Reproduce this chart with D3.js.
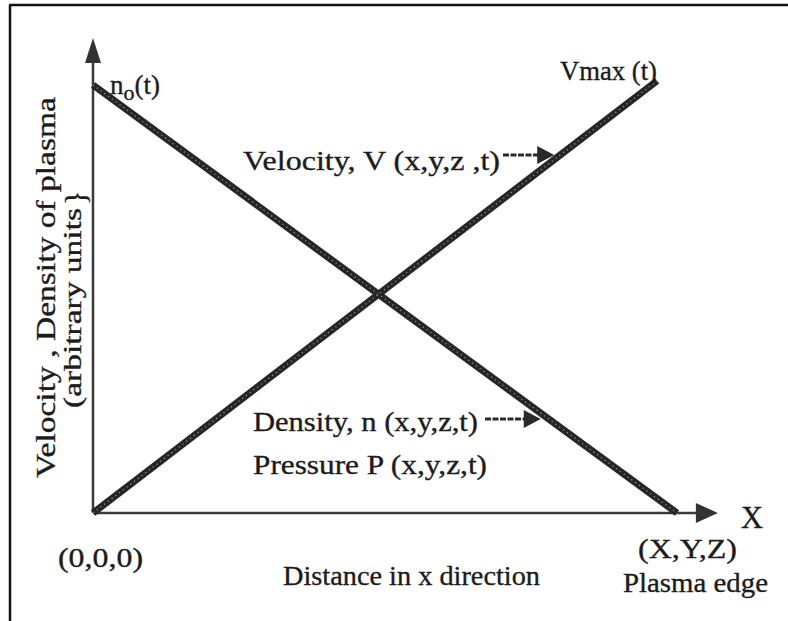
<!DOCTYPE html>
<html>
<head>
<meta charset="utf-8">
<script src="https://cdn.jsdelivr.net/npm/d3@7"></script>
<style>
    body { margin: 0; background: #fff; }
    svg { display: block; }
    text { font-family: "Liberation Serif", "Times New Roman", serif; fill: #1c1c1c; stroke: #1c1c1c; stroke-width: 0.35; }
</style>
</head>
<body>
<div id="chart"></div>
<script>
// normalised distance from centre (0) to plasma edge (1)
var velocityX = [0, 0.966];
var velocityY = [0, 1.01];
var densityX = [0, 1];
var densityY = [1, 0];
var axisEnd = { x: 1.07, y: 1.11 };

var width = 788;
var height = 621;

var xScale = d3.scaleLinear().domain([0, 1]).range([93, 677]);
var yScale = d3.scaleLinear().domain([0, 1]).range([513, 85]);

var svg = d3.select('#chart').append('svg')
    .attr('width', width)
    .attr('height', height);

svg.append('rect')
    .attr('width', width)
    .attr('height', height)
    .attr('fill', '#fff');

// frame: only top and left edges are visible
svg.append('path')
    .attr('d', 'M9,5H788M10,5V621')
    .attr('fill', 'none')
    .attr('stroke', '#111')
    .attr('stroke-width', 2.5);

// axes
var axisG = svg.append('g').attr('class', 'axes');
axisG.append('line')
    .attr('x1', xScale(0)).attr('y1', yScale(0))
    .attr('x2', xScale(0)).attr('y2', yScale(axisEnd.y) + 18)
    .attr('stroke', '#3a3a3a').attr('stroke-width', 2.5);
axisG.append('line')
    .attr('x1', xScale(0)).attr('y1', yScale(0))
    .attr('x2', xScale(axisEnd.x) - 16).attr('y2', yScale(0))
    .attr('stroke', '#3a3a3a').attr('stroke-width', 2.5);

function tri(tx, ty, dir, len, half) {
    // dir: 'up' or 'right'
    if (dir === 'up') {
        return 'M' + tx + ',' + ty + 'L' + (tx - half) + ',' + (ty + len) + 'L' + (tx + half) + ',' + (ty + len) + 'Z';
    }
    return 'M' + tx + ',' + ty + 'L' + (tx - len) + ',' + (ty - half) + 'L' + (tx - len) + ',' + (ty + half) + 'Z';
}

axisG.append('path')
    .attr('d', tri(xScale(0), yScale(axisEnd.y), 'up', 25, 8))
    .attr('fill', '#333');
axisG.append('path')
    .attr('d', tri(xScale(axisEnd.x), yScale(0), 'right', 22, 10))
    .attr('fill', '#333');

// profiles
var line = d3.line()
    .x(function (d) { return xScale(d[0]); })
    .y(function (d) { return yScale(d[1]); });

var series = [
    d3.zip(velocityX, velocityY),
    d3.zip(densityX, densityY)
];

var lineG = svg.append('g').attr('class', 'profiles');
lineG.selectAll('.thick')
    .data(series)
    .enter().append('path')
    .attr('class', 'thick')
    .attr('d', line)
    .attr('fill', 'none')
    .attr('stroke', '#262626')
    .attr('stroke-width', 7);
lineG.selectAll('.dots')
    .data(series)
    .enter().append('path')
    .attr('class', 'dots')
    .attr('d', line)
    .attr('fill', 'none')
    .attr('stroke', '#9a9a9a')
    .attr('stroke-width', 1.2)
    .attr('stroke-dasharray', '1.2,3.5');

// pointer arrows from labels to lines
function crossing(xs, ys, py) {
    var v = yScale.invert(py);
    var t = (v - ys[0]) / (ys[1] - ys[0]);
    return xScale(xs[0] + t * (xs[1] - xs[0]));
}

var pointers = [
    { from: 503, y: 155, tip: crossing(velocityX, velocityY, 155) - 6 },
    { from: 485, y: 419, tip: crossing(densityX, densityY, 419) - 8 }
];
pointers.forEach(function (p) {
    svg.append('line')
        .attr('x1', p.from).attr('y1', p.y)
        .attr('x2', p.tip - 12).attr('y2', p.y)
        .attr('stroke', '#2a2a2a').attr('stroke-width', 3)
        .attr('stroke-dasharray', '6,1.5');
    svg.append('path')
        .attr('d', tri(p.tip, p.y, 'right', 17, 9))
        .attr('fill', '#2a2a2a');
});

// labels
function label(x, y, str, size, len) {
    var t = svg.append('text')
        .attr('x', x)
        .attr('y', y)
        .attr('font-size', size)
        .text(str);
    if (len) {
        t.attr('textLength', len).attr('lengthAdjust', 'spacingAndGlyphs');
    }
    return t;
}

var n0 = svg.append('text')
    .attr('x', 110).attr('y', 94)
    .attr('font-size', 27);
n0.append('tspan').text('n');
n0.append('tspan').attr('font-size', 22).attr('dy', 6).text('o');
n0.append('tspan').attr('dy', -6).text('(t)');

label(560, 80, 'Vmax (t)', 27, 97);
label(243, 170, 'Velocity,  V (x,y,z ,t)', 28, 257);
label(253, 431, 'Density, n (x,y,z,t)', 28, 225);
label(253, 474, 'Pressure P (x,y,z,t)', 28, 234);
label(58, 567, '(0,0,0)', 27, 85);
label(283, 585, 'Distance in x direction', 27, 257);
label(741, 528, 'X', 32, 22);
label(638, 558, '(X,Y,Z)', 27, 99);
label(623, 592, 'Plasma edge', 27, 145);

// y axis title, two rotated lines
svg.append('text')
    .attr('transform', 'translate(55,478) rotate(-90)')
    .attr('font-size', 28)
    .attr('textLength', 381)
    .attr('lengthAdjust', 'spacingAndGlyphs')
    .text('Velocity , Density of plasma');
svg.append('text')
    .attr('transform', 'translate(81,408) rotate(-90)')
    .attr('font-size', 26)
    .attr('textLength', 200)
    .attr('lengthAdjust', 'spacingAndGlyphs')
    .text('(arbitrary units');
svg.append('text')
    .attr('transform', 'translate(85,205) rotate(-90)')
    .attr('font-size', 30)
    .text('}');
</script>
</body>
</html>
